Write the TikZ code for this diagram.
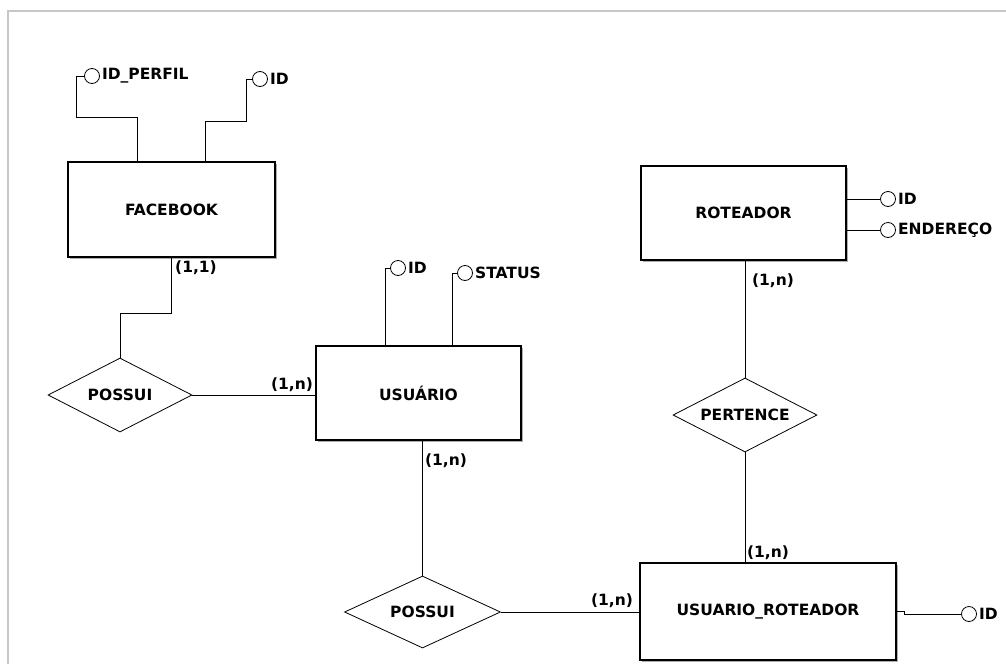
\documentclass[tikz,border=0pt]{standalone}
\usepackage{fontspec}
\setmainfont{DejaVu Sans}
\usetikzlibrary{shapes.geometric,shadows}
\begin{document}
\begin{tikzpicture}[x=1pt,y=-1pt,
    ent/.style={draw,line width=1.3pt,fill=white,minimum width=205pt,minimum height=94pt,
      drop shadow={shadow xshift=1.5pt,shadow yshift=-1.5pt,fill=black!45,opacity=0.7}},
    rel/.style={draw,diamond,aspect=2,line width=0.8pt,inner sep=0pt,fill=white,
      minimum width=144pt,minimum height=74pt},
    att/.style={draw,circle,line width=0.8pt,inner sep=0pt,minimum size=15pt},
    lbl/.style={inner sep=2pt},
    lnk/.style={line width=1pt},
    every node/.style={font=\bfseries\fontsize{15.5}{18}\selectfont}]
  \useasboundingbox (0,0) rectangle (1006,664);
  \draw[black!22,line width=2pt] (8,664) -- (8,11) -- (1006,11);
  % entidades
  \node[ent,minimum width=207pt,minimum height=95pt] (fb) at (171.5,209.5) {FACEBOOK};
  \node[ent] (usu) at (418.5,393) {USUÁRIO};
  \node[ent] (rot) at (743.5,213) {ROTEADOR};
  \node[ent,minimum width=256pt,minimum height=97pt] (ur) at (768,611.5) {USUARIO\_ROTEADOR};
  % relacionamentos
  \node[rel] (pos1) at (120,395) {POSSUI};
  \node[rel,minimum width=156pt,minimum height=72pt] (pos2) at (422.5,612) {POSSUI};
  \node[rel] (pert) at (745,415) {PERTENCE};
  % atributos
  \node[att,label={[lbl]right:ID\_PERFIL}] (fbperf) at (92,76) {};
  \node[att,label={[lbl]right:ID}] (fbid) at (260,79) {};
  \node[att,label={[lbl]right:ID}] (usuid) at (398,268) {};
  \node[att,label={[lbl]right:STATUS}] (usust) at (465,273) {};
  \node[att,label={[lbl]right:ID}] (rotid) at (888,199) {};
  \node[att,label={[lbl]right:ENDEREÇO}] (rotend) at (888,230) {};
  \node[att,label={[lbl]right:ID}] (urid) at (969,614) {};
  \draw[lnk] ([xshift=-34.5pt]fb.north) -- ++(0,-44) -| ([xshift=-8pt]fbperf.west) -- (fbperf.west);
  \draw[lnk] ([xshift=33.5pt]fb.north) -- ++(0,-40) -| ([xshift=-6pt]fbid.west) -- (fbid.west);
  \draw[lnk] ([xshift=-33.5pt]usu.north) |- (usuid.west);
  \draw[lnk] ([xshift=33.5pt]usu.north) |- (usust.west);
  \draw[lnk] (rot.east |- rotid) -- (rotid.west);
  \draw[lnk] (rot.east |- rotend) -- (rotend.west);
  \draw[lnk] (ur.east) -- ++(8,0) |- (urid.west);
  % ligacoes
  \draw[lnk] (fb.south) -- ++(0,56) -| (pos1.north);
  \draw[lnk] (pos1.east) -- (pos1.east -| usu.west);
  \draw[lnk] (usu.south -| pos2.north) -- (pos2.north);
  \draw[lnk] (pos2.east) -- (pos2.east -| ur.west);
  \draw[lnk] (rot.south -| pert.north) -- (pert.north);
  \draw[lnk] (pert.south) -- (pert.south |- ur.north);
  % cardinalidades
  \node (cfb) at (196,268) {(1,1)};
  \node (cusu1) at (292,385) {(1,n)};
  \node (cusu2) at (446,461) {(1,n)};
  \node (crot) at (773,281) {(1,n)};
  \node (cur1) at (612,601) {(1,n)};
  \node (cur2) at (768,553) {(1,n)};
\end{tikzpicture}
\end{document}
